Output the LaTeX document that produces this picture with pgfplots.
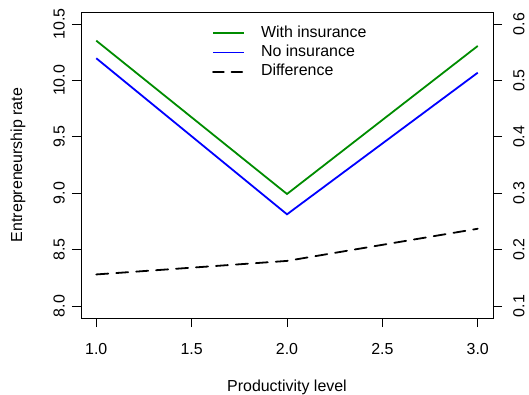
\documentclass[border=0pt]{standalone}
\usepackage{fontspec}
\setmainfont{Liberation Sans}
\usepackage{pgfplots}
\usepackage{pgfplotstable}
\pgfplotsset{compat=1.18}

\definecolor{rgreen}{RGB}{0,140,0}
\definecolor{rblue}{RGB}{0,0,255}

% entrepreneurship rate by productivity level
\pgfplotstableread{
x with no
1 10.352 10.196
2 8.993 8.813
3 10.305 10.068
}\ratetable

% difference between the two regimes (right axis)
\pgfplotstableread{
x diff
1 0.156
2 0.180
3 0.237
}\difftable

\pgfplotsset{
  rframe/.style={
    scale only axis, width=412bp, height=306bp,
    at={(0,0)}, anchor=south west,
    xmin=0.92, xmax=3.08,
    font=\fontsize{16}{19}\selectfont,
    tick align=outside, major tick length=9bp,
    every tick/.style={black, line width=0.8bp},
    axis line style={line width=0.9bp},
    /pgf/number format/assume math mode=true,
    /pgf/number format/fixed, /pgf/number format/fixed zerofill,
    /pgf/number format/precision=1,
    scaled ticks=false,
    clip=false,
  },
}

\begin{document}
\begin{tikzpicture}
\begin{axis}[rframe, name=main,
  ymin=7.894, ymax=10.606,
  xtick={1,1.5,2,2.5,3}, xtick pos=bottom,
  ytick={8,8.5,9,9.5,10,10.5}, ytick pos=left,
  xticklabel style={inner sep=0pt, anchor=north, yshift=-16.3bp},
  yticklabel style={xshift=-7bp, rotate=90, anchor=south, inner sep=0pt},
  xlabel={Productivity level},
  ylabel={Entrepreneurship rate},
  every axis x label/.style={at={(rel axis cs:0.5,0)}, anchor=center, yshift=-69bp, inner sep=0pt},
  every axis y label/.style={at={(rel axis cs:0,0.5)}, xshift=-63bp, rotate=90, anchor=center, inner sep=0pt},
  legend image code/.code={\draw[#1] (0bp,0.2bp) -- (31bp,0.2bp);},
  legend cell align=left,
  legend style={draw=none, fill=none, at={(rel axis cs:0.318,0.955)}, anchor=north west,
    inner sep=0pt, row sep=4.2bp, column sep=0pt,
    nodes={inner sep=0pt, text height=11.5bp, text depth=3.5bp},
    font=\fontsize{16}{19}\selectfont},
]
\addplot[rgreen, line width=1.8bp] table[x=x, y=with] {\ratetable};
\addlegendentry{\hspace{16bp}With insurance}
\addplot[rblue, line width=1.8bp] table[x=x, y=no] {\ratetable};
\addlegendentry{\hspace{16bp}No insurance}
\addlegendimage{black, line width=1.8bp, line cap=round, dash pattern=on 10.7bp off 7.7bp}
\addlegendentry{\hspace{16bp}Difference}
\end{axis}
\begin{axis}[rframe,
  ymin=0.0788, ymax=0.6212,
  hide x axis, axis y line*=right,
  ytick={0.1,0.2,0.3,0.4,0.5,0.6}, ytick pos=right,
  yticklabel style={xshift=11bp, rotate=90, anchor=north, inner sep=0pt},
]
\addplot[black, line width=1.8bp, line cap=round, dash pattern=on 12bp off 8bp] table[x=x, y=diff] {\difftable};
\end{axis}
\path (main.south west) ++(-81bp,-77bp) rectangle ++(529bp,395bp);
\end{tikzpicture}
\end{document}
